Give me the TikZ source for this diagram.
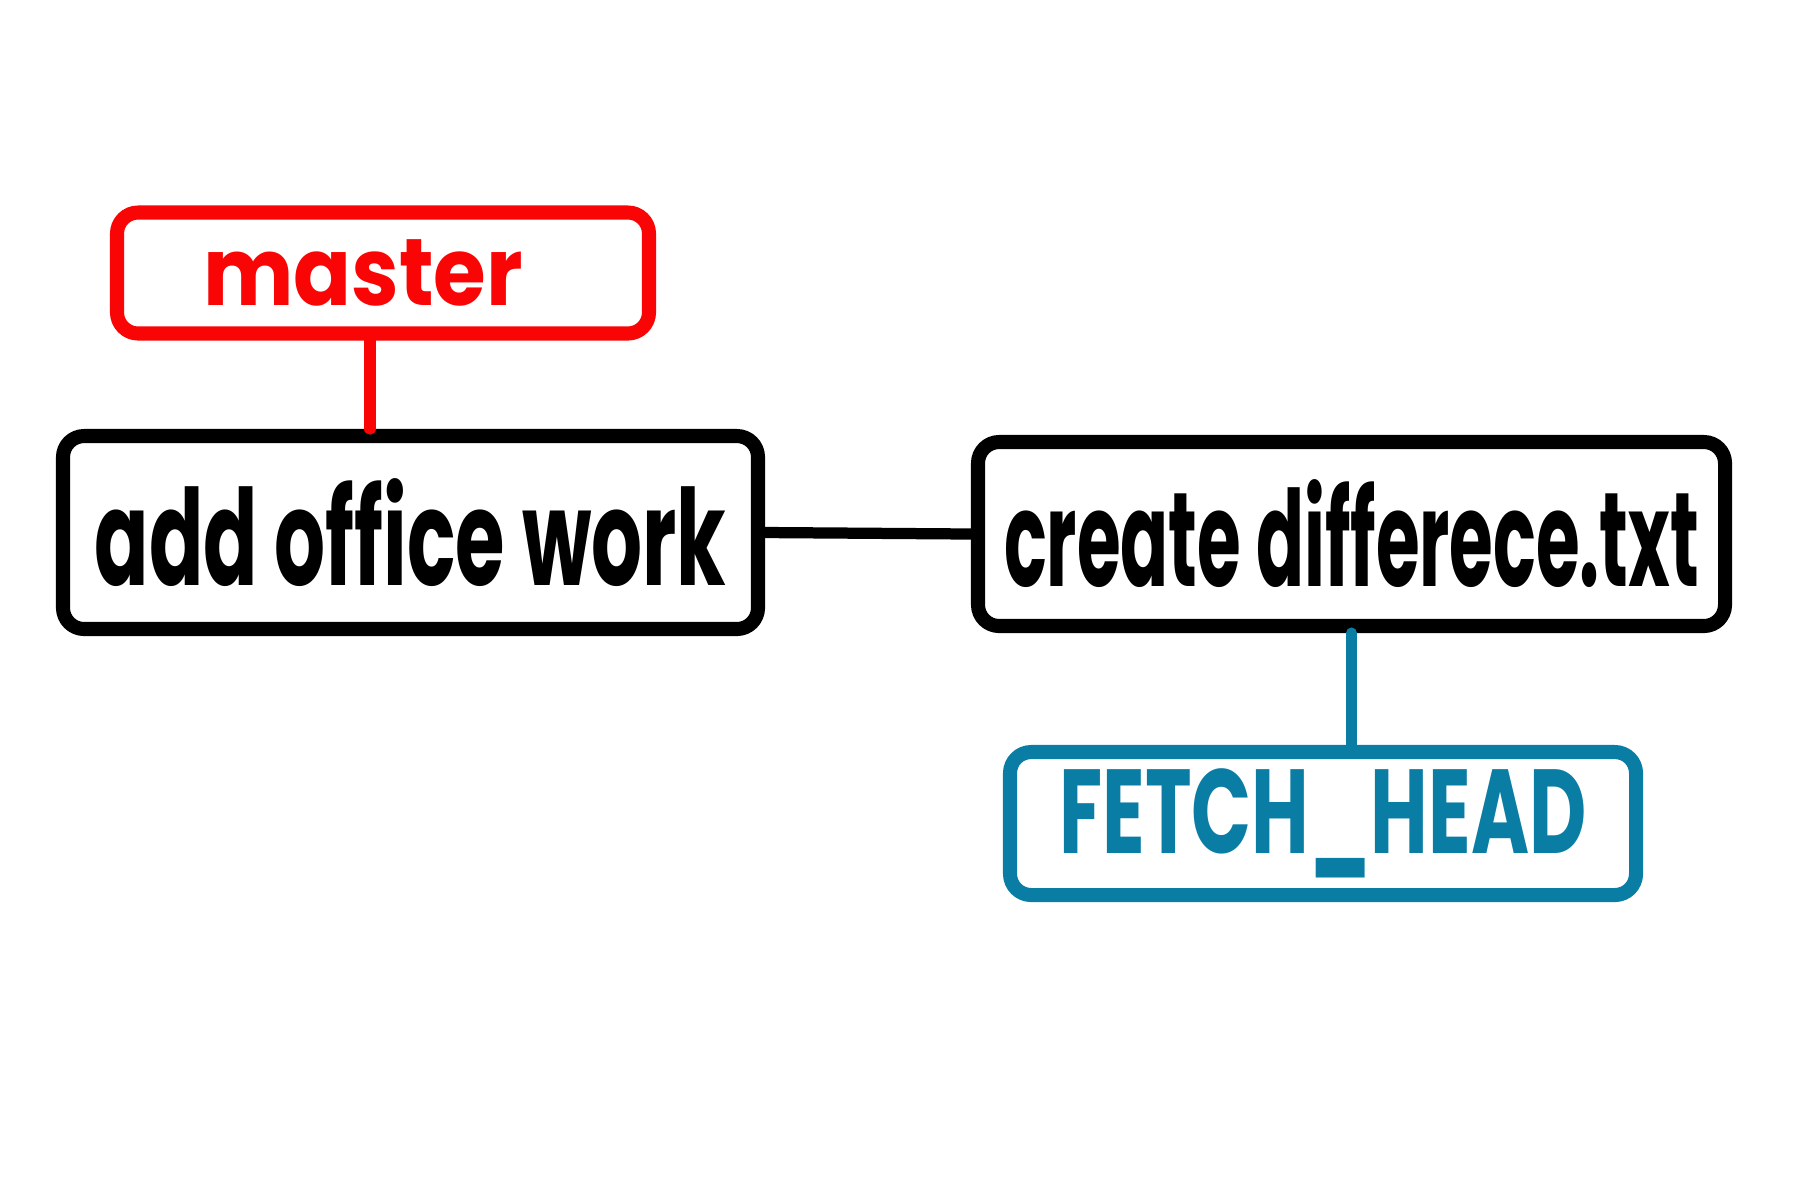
\documentclass[tikz,border=0pt]{standalone}
\usepackage{fontspec}
\setmainfont{Poppins}
\definecolor{mred}{RGB}{250,5,5}
\definecolor{mblue}{RGB}{10,125,165}
\begin{document}
\begin{tikzpicture}[x=1mm,y=-1mm,
  box/.style={draw, line width=4pt, rounded corners=6pt, inner sep=0pt, line join=round},
  conn/.style={line width=3.2pt, line cap=round}]
\useasboundingbox (0,0) rectangle (180,120);
\node[box, mred, text=mred, minimum width=53.2mm, minimum height=12.1mm] (master) at (38.3,27.3)
  {\hspace*{-4mm}\fontsize{27}{32}\selectfont\bfseries\scalebox{0.9}[1]{master}};
\node[box, minimum width=69.5mm, minimum height=19.3mm] (add) at (41.05,53.25)
  {\fontsize{38}{44}\selectfont\bfseries\scalebox{0.60}[1]{add office work}};
\node[box, minimum width=74.7mm, minimum height=18.4mm] (create) at (135.15,53.4)
  {\fontsize{38}{44}\selectfont\bfseries\scalebox{0.53}[1]{create differece.txt}};
\node[box, mblue, text=mblue, minimum width=62.6mm, minimum height=14.3mm] (fetch) at (132.3,82.35)
  {\fontsize{34}{40}\selectfont\bfseries\scalebox{0.66}[1]{FETCH\_HEAD}};
\draw[conn, mred] ([xshift=-1.3mm]master.south) -- ([xshift=-1.3mm]master.south |- add.north);
\draw[conn] (add.east) -- (create.west);
\draw[conn, mblue] (create.south) -- (create.south |- fetch.north);
\end{tikzpicture}
\end{document}
